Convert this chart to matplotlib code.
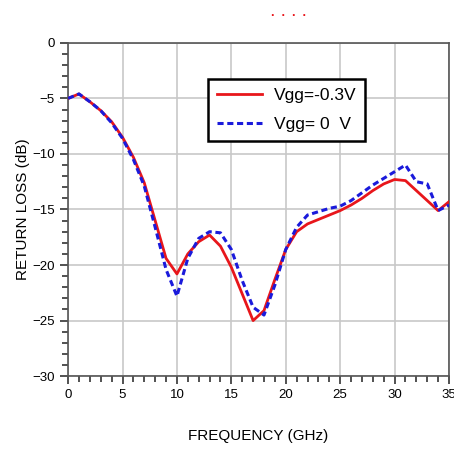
import numpy as np
import matplotlib
matplotlib.use('Agg')
from matplotlib import pyplot as plt
from matplotlib.ticker import MultipleLocator

plt.rcParams['font.family'] = ['Liberation Sans', 'DejaVu Sans']

# return loss vs frequency for two gate bias points
freq = [0, 1, 2, 3, 4, 5, 6, 7, 8, 9, 10, 11, 12, 13, 14, 15, 16, 17,
        18, 19, 20, 21, 22, 23, 24, 25, 26, 27, 28, 29, 30, 31, 32, 33, 34, 35]
rl_m03 = [-5.0, -4.6, -5.3, -6.1, -7.1, -8.5, -10.3, -12.6, -16.0, -19.4, -20.8,
          -19.0, -17.9, -17.3, -18.3, -20.2, -22.6, -25.0, -24.1, -21.3, -18.6,
          -17.0, -16.3, -15.9, -15.5, -15.1, -14.6, -14.0, -13.3, -12.7, -12.3,
          -12.4, -13.3, -14.2, -15.1, -14.3]
rl_0 = [-5.0, -4.6, -5.3, -6.1, -7.2, -8.6, -10.5, -12.9, -16.6, -20.4, -22.8,
        -19.4, -17.6, -17.0, -17.1, -18.6, -21.4, -23.8, -24.5, -21.8, -18.6,
        -16.6, -15.5, -15.2, -14.9, -14.7, -14.2, -13.5, -12.8, -12.2, -11.6,
        -11.0, -12.5, -12.7, -15.1, -14.6]

xticks = [0, 5, 10, 15, 20, 25, 30, 35]
yticks = [0, -5, -10, -15, -20, -25, -30]

fig = plt.figure(figsize=(4.54, 4.51), dpi=100)
ax = fig.add_axes([0.150, 0.166, 0.839, 0.739])

ax.plot(freq, rl_m03, color='#e8161b', lw=2.0, label='Vgg=-0.3V', zorder=3)
ax.plot(freq, rl_0, color='#1a1adb', lw=2.2, ls=(0, (2.0, 1.2)), label='Vgg= 0  V', zorder=4)

ax.set_xlim(0, 35)
ax.set_ylim(-30, 0)
ax.set_xticks(xticks)
ax.set_yticks(yticks)
ax.xaxis.set_minor_locator(MultipleLocator(1))
ax.yaxis.set_minor_locator(MultipleLocator(1))
ax.tick_params(which='major', length=6, width=1.2, labelsize=9.5, color='#333333')
ax.tick_params(which='minor', length=4, width=1.2, color='#333333')
ax.grid(True, which='major', color='#c8c8c8', lw=1.2)
for s in ax.spines.values():
    s.set_color('#555555')
    s.set_linewidth(1.2)

ax.set_xlabel('FREQUENCY (GHz)', fontsize=11, labelpad=20)
ax.set_ylabel('RETURN LOSS (dB)', fontsize=11, labelpad=2)

leg = ax.legend(loc='upper left', bbox_to_anchor=(0.367, 0.891), fontsize=12.5,
                frameon=True, fancybox=False, handlelength=2.6,
                borderpad=0.5, labelspacing=0.8, handletextpad=0.7,
                borderaxespad=0)
leg.get_frame().set_edgecolor('black')
leg.get_frame().set_linewidth(1.8)
leg.get_frame().set_alpha(1)

fig.text(0.635, 0.985, '.  .  .  .', color='#e8161b', fontsize=9, fontweight='bold',
         ha='center', va='top')

fig.savefig('out.png', dpi=100)
